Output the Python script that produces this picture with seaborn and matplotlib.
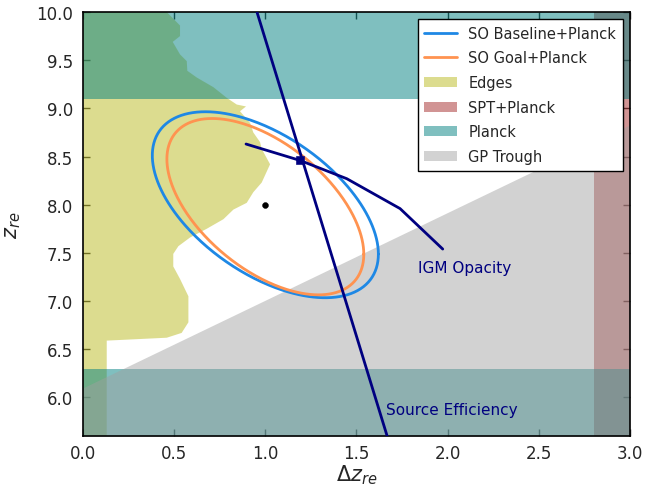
import numpy as np
import pandas as pd
import matplotlib
matplotlib.use("Agg")
import matplotlib.pyplot as plt
import seaborn as sns
from matplotlib.patches import Patch
from matplotlib.lines import Line2D

sns.set_style("ticks")
plt.rcParams['font.family'] = ['DejaVu Sans']
plt.rcParams['mathtext.fontset'] = 'dejavusans'

# ---------------- data ----------------
# Edges constraint outline (Delta z, z)
edges_dz = [0.0, 0.459, 0.532, 0.532, 0.492, 0.532, 0.569, 0.572, 0.624, 0.715, 0.788,
            0.843, 0.894, 0.861, 0.916, 0.934, 0.971, 0.98, 1.026, 0.98, 0.934, 0.898,
            0.825, 0.77, 0.678, 0.587, 0.523, 0.495, 0.495, 0.532, 0.578, 0.578, 0.541,
            0.459, 0.13, 0.13, 0.0]
edges_z = [10.0, 10.0, 9.86, 9.75, 9.69, 9.56, 9.49, 9.39, 9.32, 9.22, 9.11,
           9.04, 9.02, 8.97, 8.85, 8.75, 8.65, 8.58, 8.42, 8.23, 8.13, 8.02,
           7.95, 7.85, 7.75, 7.66, 7.57, 7.49, 7.36, 7.23, 7.05, 6.78, 6.67,
           6.62, 6.59, 5.6, 5.6]

# Planck bands (z ranges excluded)
planck_high_z = [9.1, 10.0]
planck_low_z = [5.6, 6.3]
# SPT+Planck (Delta z range)
spt_dz = [2.8, 3.0]
# GP trough upper edge
gp_dz = [0.0, 3.0]
gp_z = [6.1, 8.83]

# Fisher ellipses: centre, half-extents, correlation
ell_names = ["SO Baseline+Planck", "SO Goal+Planck"]
ell_cx = [1.0, 1.0]
ell_cy = [8.0, 7.98]
ell_sx = [0.62, 0.54]
ell_sy = [0.965, 0.915]
ell_rho = [-0.53, -0.54]
ell_colors = ["#1e88e5", "#ff9350"]

# Source efficiency line
src_dz = [0.954, 1.668]
src_z = [10.0, 5.6]
# IGM opacity curve
igm_dz = [0.894, 1.19, 1.447, 1.739, 1.973]
igm_z = [8.63, 8.46, 8.27, 7.96, 7.54]
# intersection marker
cross_dz = [1.19]
cross_z = [8.46]
# fiducial point
fid_dz = [1.0]
fid_z = [8.0]

x_ticks = [0.0, 0.5, 1.0, 1.5, 2.0, 2.5, 3.0]
y_ticks = [6.0, 6.5, 7.0, 7.5, 8.0, 8.5, 9.0, 9.5, 10.0]

# ---------------- colours ----------------
edges_col = (187/255, 187/255, 33/255)
spt_col = (165/255, 42/255, 42/255)
planck_col = (0, 128/255, 128/255)
gp_col = (160/255, 160/255, 160/255)
navy = "#000080"

fig = plt.figure(figsize=(6.6, 4.89), dpi=100)
ax = fig.add_axes([0.1258, 0.1063, 0.8287, 0.8671])

# regions
ax.fill(edges_dz, edges_z, color=edges_col, alpha=0.5, lw=0, zorder=1)
ax.axvspan(spt_dz[0], spt_dz[1], color=spt_col, alpha=0.5, lw=0, zorder=1.1)
ax.axhspan(planck_high_z[0], planck_high_z[1], color=planck_col, alpha=0.5, lw=0, zorder=1.2)
ax.axhspan(planck_low_z[0], planck_low_z[1], color=planck_col, alpha=0.5, lw=0, zorder=1.2)
ax.fill_between(gp_dz, gp_z, 5.0, color=gp_col, alpha=0.47, lw=0, zorder=1.3)

# ellipses
t = np.linspace(0, 2 * np.pi, 400)
for name, cx, cy, sx, sy, rho, col in zip(ell_names, ell_cx, ell_cy, ell_sx, ell_sy, ell_rho, ell_colors):
    ex = cx + sx * np.cos(t)
    ey = cy + sy * (rho * np.cos(t) + np.sqrt(1 - rho**2) * np.sin(t))
    df = pd.DataFrame({"dz": ex, "z": ey})
    sns.lineplot(data=df, x="dz", y="z", sort=False, estimator=None, color=col, lw=2, ax=ax, zorder=3)

# theory lines
sns.lineplot(x=src_dz, y=src_z, sort=False, estimator=None, color=navy, lw=2, ax=ax, zorder=4)
sns.lineplot(x=igm_dz, y=igm_z, sort=False, estimator=None, color=navy, lw=2, ax=ax, zorder=4)
sns.scatterplot(x=cross_dz, y=cross_z, marker="s", s=30, color=navy, edgecolor=navy, ax=ax, zorder=5)
sns.scatterplot(x=fid_dz, y=fid_z, marker="o", s=18, color="black", edgecolor="black", ax=ax, zorder=5)

ax.text(1.84, 7.35, "IGM Opacity", color=navy, fontsize=11, ha="left", va="center", zorder=6)
ax.text(1.66, 5.88, "Source Efficiency", color=navy, fontsize=11, ha="left", va="center", zorder=6)

ax.set_xlim(0, 3)
ax.set_ylim(5.6, 10.0)
ax.set_xticks(x_ticks)
ax.set_yticks(y_ticks)
ax.set_xticklabels([f"{v:.1f}" for v in x_ticks])
ax.set_yticklabels([f"{v:.1f}" for v in y_ticks])
ax.tick_params(direction="in", top=True, right=True, length=5, width=1, labelsize=12)
ax.tick_params(axis="x", pad=6)
ax.tick_params(axis="y", pad=7)
for sp in ax.spines.values():
    sp.set_visible(True)
    sp.set_color("black")
    sp.set_linewidth(1.2)
ax.set_xlabel(r"$\Delta z_{re}$", fontsize=15, labelpad=0)
ax.set_ylabel(r"$z_{re}$", fontsize=15, labelpad=10)

handles = [
    Line2D([0], [0], color=ell_colors[0], lw=2),
    Line2D([0], [0], color=ell_colors[1], lw=2),
    Patch(facecolor=edges_col, alpha=0.5, edgecolor="none"),
    Patch(facecolor=spt_col, alpha=0.5, edgecolor="none"),
    Patch(facecolor=planck_col, alpha=0.5, edgecolor="none"),
    Patch(facecolor=gp_col, alpha=0.47, edgecolor="none"),
]
labels = ["SO Baseline+Planck", "SO Goal+Planck", "Edges", "SPT+Planck", "Planck", "GP Trough"]
leg = ax.legend(handles, labels, loc="upper right", fontsize=10.5, frameon=True, fancybox=False,
                framealpha=1, edgecolor="black", borderaxespad=0.5, handlelength=2.2,
                labelspacing=0.66, borderpad=0.45)
leg.get_frame().set_linewidth(1.0)
leg.set_zorder(10)

fig.savefig("out.png", dpi=100)
